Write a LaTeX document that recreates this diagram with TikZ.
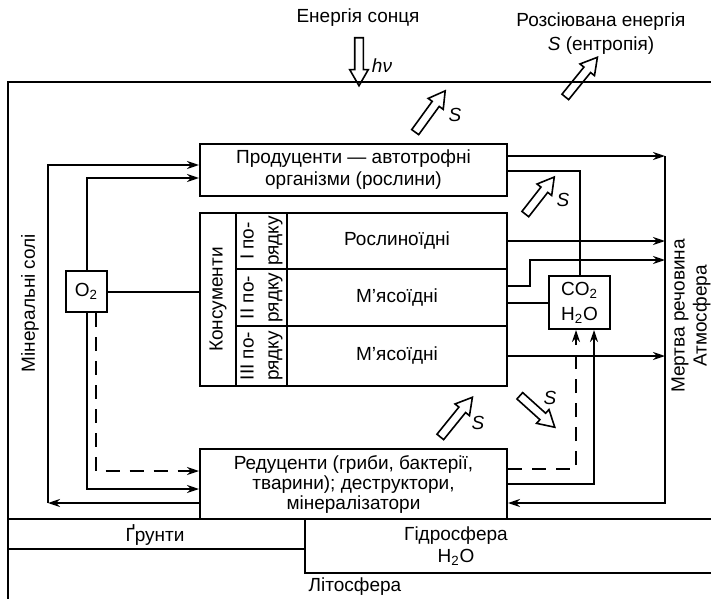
\documentclass[tikz,border=0pt]{standalone}
\usepackage{fontspec}
\setmainfont{Liberation Sans}
\usetikzlibrary{shapes.arrows, arrows.meta, calc}

\tikzset{
  box/.style={draw, inner sep=0pt, align=center},
  flow/.style={single arrow, draw, line width=0.8pt, inner xsep=0pt, inner ysep=1.75pt,
    single arrow head extend=2.5pt, single arrow tip angle=60, minimum height=#1},
  flow/.default=25pt,
  dashline/.style={dash pattern=on 7pt off 5pt},
}

\begin{document}
\begin{tikzpicture}[x=0.5pt, y=-0.5pt, font=\fontsize{9.5}{11}\selectfont, line width=1pt, >={Stealth[length=6pt,width=4pt]}]
    \useasboundingbox (0,0) rectangle (711,599);
    % frame and layers
    \draw (711,82) -- (8,82) -- (8,599);
    \draw (8,519) -- (711,519);
    \draw (8,549) -- (305,549);
    \draw (305,519) -- (305,573) -- (711,573);
    \node (grunt) at (155,535) {Ґрунти};
    \node[align=center] (hydro) at (456,546) {Гідросфера\\H\textsubscript{2}O};
    \node (litho) at (355,587) {Літосфера};

    % boxes
    \node[box, minimum width=153.5pt, minimum height=26pt] (prod) at (353.5,170) {Продуценти — автотрофні\\організми (рослини)};
    \node[box, minimum width=18pt, minimum height=86.5pt] (cons) at (218,299.5) {};
    \node[rotate=90] at (cons) {Консументи};
    \node[box, minimum width=25.5pt, minimum height=28pt] (ord1) at (261.5,241) {};
    \node[box, minimum width=25.5pt, minimum height=28.5pt] (ord2) at (261.5,297.5) {};
    \node[box, minimum width=25.5pt, minimum height=30pt] (ord3) at (261.5,356) {};
    \node[rotate=90, align=center, font=\fontsize{9.5}{12.5}\selectfont] at (ord1) {I по-\\рядку};
    \node[rotate=90, align=center, font=\fontsize{9.5}{12.5}\selectfont] at (ord2) {II по-\\рядку};
    \node[rotate=90, align=center, font=\fontsize{9.5}{12.5}\selectfont] at (ord3) {III по-\\рядку};
    \node[box, minimum width=110pt, minimum height=28pt] (r1) at (397,241) {Рослиноїдні};
    \node[box, minimum width=110pt, minimum height=28.5pt] (r2) at (397,297.5) {М’ясоїдні};
    \node[box, minimum width=110pt, minimum height=30pt] (r3) at (397,356) {М’ясоїдні};
    \node[box, minimum width=153.5pt, minimum height=35pt, font=\fontsize{9.5}{10}\selectfont] (reduc) at (353.5,484) {Редуценти (гриби, бактерії,\\тварини); деструктори,\\мінералізатори};
    \node[box, minimum size=20.5pt] (oxy) at (86.5,291.5) {O\textsubscript{2}};
    \node[box, minimum width=30.5pt, minimum height=26.5pt] (co2) at (579.5,302.5) {CO\textsubscript{2}\\[1.5pt]H\textsubscript{2}O};

    % side pools
    \node[rotate=90] (salt) at (30,303) {Мінеральні солі};
    \node[rotate=90, align=center] (dead) at (691,316) {Мертва речовина\\Атмосфера};
    \coordinate (saltb) at (48,503);
    \coordinate (deadt) at (665,156);
    \coordinate (deadb) at (665,503);
    \coordinate (bend) at (530,260);

    % connectors
    \draw[->] ([yshift=-9.5pt]reduc.west) -- (saltb);
    \draw[->] (saltb) |- ([yshift=2.5pt]prod.west);
    \draw[->] (oxy.north) |- ([yshift=-4pt]prod.west);
    \draw (oxy.east) -- (cons.west |- oxy.east);
    \draw[->] (oxy.south) |- ([yshift=-2.5pt]reduc.west);
    \draw[->, dashline] ([xshift=4.5pt]oxy.south) |- ([yshift=6.5pt]reduc.west);
    \draw[->] ([yshift=7pt]prod.east) -- (deadt);
    \draw[->] (deadt) -- (deadb) -- ([yshift=-9.5pt]reduc.east);
    \draw ([yshift=-0.5pt]prod.east) -| (co2.north);
    \draw[->] (r1.east) -- (deadt |- r1.east);
    \draw[->] ([yshift=5.75pt]r2.east) -| (bend) -- (deadt |- bend);
    \draw (co2.west) -- (co2.west -| r2.east);
    \draw[->] (r3.east) -- (deadt |- r3.east);
    \draw[->, dashline] ([yshift=7.5pt]reduc.east) -| ([xshift=-1.75pt]co2.south);
    \draw[->] (reduc.east) -| ([xshift=7.25pt]co2.south);

    % energy and entropy
    \node (sunlbl) at (358,18) {Енергія сонця};
    \node[flow=24pt, rotate=-90] (sun) at (359,58) {};
    \node (hv) at (382,66) {\textit{hν}};
    \node[align=center] (entr) at (601,34) {Розсіювана енергія\\[1pt]\textit{S} (ентропія)};
    \node[flow=25.5pt, rotate=51] (sout) at (579,80) {};
    \node[flow=25.5pt, rotate=54] (s1) at (428,114.5) {};
    \node (s1l) at (455,115) {\textit{S}};
    \node[flow=23.5pt, rotate=52] (s2) at (537.5,198.5) {};
    \node (s2l) at (563,200) {\textit{S}};
    \node[flow=25.5pt, rotate=51] (s3) at (454,420) {};
    \node (s3l) at (478,423) {\textit{S}};
    \node[flow=23.5pt, rotate=-42] (s4) at (534.5,409) {};
    \node (s4l) at (550,398) {\textit{S}};
\end{tikzpicture}
\end{document}
